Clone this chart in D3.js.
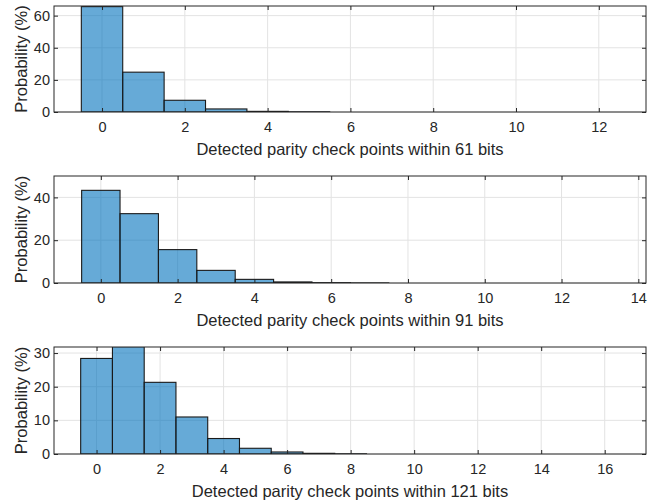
<!DOCTYPE html>
<html>
<head>
<meta charset="utf-8">
<script src="https://cdn.jsdelivr.net/npm/d3@7"></script>
<style>
  body { margin: 0; background: #fff; }
  text { font-family: "Liberation Sans", Arial, sans-serif; fill: #262626; }
</style>
</head>
<body>
<div id="chart"></div>
<script>
// histogram data (percent per count)
var bins61 = [0, 1, 2, 3, 4, 5, 6, 7, 8, 9, 10, 11, 12];
var probs61 = [65.6, 24.8, 7.3, 1.9, 0.4, 0.1, 0, 0, 0, 0, 0, 0, 0];

var bins91 = [0, 1, 2, 3, 4, 5, 6, 7, 8, 9, 10, 11, 12, 13];
var probs91 = [43.3, 32.4, 15.6, 5.9, 1.7, 0.5, 0.15, 0.03, 0, 0, 0, 0, 0, 0];

var bins121 = [0, 1, 2, 3, 4, 5, 6, 7, 8, 9, 10, 11, 12, 13, 14, 15, 16];
var probs121 = [28.4, 31.9, 21.3, 11.0, 4.6, 1.7, 0.6, 0.2, 0.05, 0, 0, 0, 0, 0, 0, 0, 0];

var xTicks61 = [0, 2, 4, 6, 8, 10, 12];
var xTicks91 = [0, 2, 4, 6, 8, 10, 12, 14];
var xTicks121 = [0, 2, 4, 6, 8, 10, 12, 14, 16];

var yTicks61 = [0, 20, 40, 60];
var yTicks91 = [0, 20, 40];
var yTicks121 = [0, 10, 20, 30];

var panels = [
  {bins: bins61, probs: probs61, xTicks: xTicks61, yTicks: yTicks61,
   xDom: [-1.16, 13.14], yMax: 66, top: 6, bottom: 112, label: "Detected parity check points within 61 bits"},
  {bins: bins91, probs: probs91, xTicks: xTicks91, yTicks: yTicks91,
   xDom: [-1.22, 14.2], yMax: 50, top: 176, bottom: 283, label: "Detected parity check points within 91 bits"},
  {bins: bins121, probs: probs121, xTicks: xTicks121, yTicks: yTicks121,
   xDom: [-1.34, 17.3], yMax: 31.8, top: 347, bottom: 454, label: "Detected parity check points within 121 bits"}
];

var W = 653, H = 504, left = 54, right = 646;

var svg = d3.select("#chart").append("svg")
  .attr("width", W).attr("height", H);

panels.forEach(function(p, i) {
  var x = d3.scaleLinear().domain(p.xDom).range([left, right]);
  var y = d3.scaleLinear().domain([0, p.yMax]).range([p.bottom, p.top]);
  var g = svg.append("g");

  g.append("clipPath").attr("id", "clip" + i)
    .append("rect")
    .attr("x", left).attr("y", p.top)
    .attr("width", right - left).attr("height", p.bottom - p.top);

  // grid
  g.append("g").selectAll("line.vx")
    .data(p.xTicks).enter().append("line")
    .attr("x1", d => x(d)).attr("x2", d => x(d))
    .attr("y1", p.top).attr("y2", p.bottom)
    .style("stroke", "#e3e3e3").style("stroke-width", 1);
  g.append("g").selectAll("line.hy")
    .data(p.yTicks).enter().append("line")
    .attr("x1", left).attr("x2", right)
    .attr("y1", d => y(d)).attr("y2", d => y(d))
    .style("stroke", "#e3e3e3").style("stroke-width", 1);

  // bars
  g.append("g").attr("clip-path", "url(#clip" + i + ")")
    .selectAll("rect")
    .data(p.bins).enter().append("rect")
    .attr("x", d => x(d - 0.5))
    .attr("width", d => x(d + 0.5) - x(d - 0.5))
    .attr("y", (d, j) => y(p.probs[j]))
    .attr("height", (d, j) => p.bottom - y(p.probs[j]))
    .style("fill", "rgb(0,114,189)")
    .style("fill-opacity", 0.6)
    .style("stroke", "#1a1a1a")
    .style("stroke-width", 1.1);

  // axes
  var xa = g.append("g").attr("transform", "translate(0," + p.bottom + ")")
    .call(d3.axisBottom(x).tickValues(p.xTicks).tickSize(-4).tickPadding(10));
  var xt = g.append("g").attr("transform", "translate(0," + p.top + ")")
    .call(d3.axisTop(x).tickValues(p.xTicks).tickSize(-4).tickFormat(""));
  var ya = g.append("g").attr("transform", "translate(" + left + ",0)")
    .call(d3.axisLeft(y).tickValues(p.yTicks).tickSize(-4).tickPadding(4));
  var yr = g.append("g").attr("transform", "translate(" + right + ",0)")
    .call(d3.axisRight(y).tickValues(p.yTicks).tickSize(-4).tickFormat(""));

  [xa, xt, ya, yr].forEach(function(a) {
    a.select(".domain").remove();
    a.selectAll("line").style("stroke", "#262626");
    a.selectAll("text").style("font-size", "14.5px")
      .style("font-family", "'Liberation Sans', Arial, sans-serif").style("fill", "#262626");
  });

  // box
  g.append("rect")
    .attr("x", left).attr("y", p.top)
    .attr("width", right - left).attr("height", p.bottom - p.top)
    .style("fill", "none").style("stroke", "#262626").style("stroke-width", 1);

  g.append("text")
    .attr("x", (left + right) / 2).attr("y", p.bottom + 43)
    .attr("text-anchor", "middle")
    .style("font-size", "16.5px")
    .text(p.label);

  g.append("text")
    .attr("transform", "translate(27," + (p.top + p.bottom) / 2 + ") rotate(-90)")
    .attr("text-anchor", "middle")
    .style("font-size", "16.5px")
    .text("Probability (%)");
});
</script>
</body>
</html>
